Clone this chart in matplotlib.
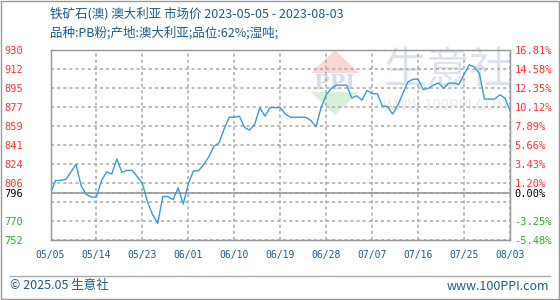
import matplotlib
matplotlib.use('Agg')
import matplotlib.pyplot as plt
import matplotlib.patches as patches
import pandas as pd

plt.rcParams['font.family'] = ['Noto Sans CJK SC', 'DejaVu Sans']

# Daily prices (yuan/ton), starting 2023-05-05.
startDate = '2023-05-05'
prices = [796, 808, 808, 809, 816, 823, 803, 795, 792.5, 792.5,
          808, 816, 814, 828, 815.5, 817.5, 817.5, 811.5, 805, 788,
          776, 768, 793, 793, 790, 801, 786, 805, 817, 817,
          823, 830, 840, 843, 856, 867, 867, 868, 857.5, 855,
          860.5, 876, 868, 876, 876, 876, 870, 867, 867, 867,
          867, 864, 858, 876, 888, 894, 897, 897, 897, 885,
          887, 883, 892, 889, 889, 877.5, 877, 870, 878, 889,
          900, 902.5, 902.5, 893, 894, 897, 899, 894, 899, 899,
          897.5, 907, 916, 914, 908, 884, 884, 884, 888, 885, 873]

# Percent change ticks relative to the first price, with their labels.
pctTicks = [16.81, 14.58, 12.35, 10.12, 7.89, 5.66, 3.43, 1.20, 0.00, -1.03, -3.25, -5.48]
leftLabels = ['930', '912', '895', '877', '859', '841', '824', '806', '796', '', '770', '752']
rightLabels = ['16.81%', '14.58%', '12.35%', '10.12%', '7.89%', '5.66%', '3.43%', '1.20%',
               '0.00%', '', '-3.25%', '-5.48%']

titleText = '铁矿石(澳) 澳大利亚 市场价 2023-05-05 - 2023-08-03'
subtitleText = '品种:PB粉;产地:澳大利亚;品位:62%;湿吨;'
footerLeft = '© 2025.05 生意社'
footerRight = 'www.100PPI.com'

textBlue = '#1d5b8c'
lineBlue = '#3a9ad9'
upRed = '#ff3333'
downGreen = '#33aa33'
frameGray = '#999999'
gridGray = '#a8a8a8'


def main(figureSaveLocation):
    fig = plt.figure(figsize=(5.6, 3), dpi=100)

    # Background layer in pixel coordinates: frame, titles, footer, watermark.
    bg = fig.add_axes([0, 0, 1, 1], zorder=0)
    bg.set_xlim(0, 560)
    bg.set_ylim(300, 0)
    bg.axis('off')
    bg.add_patch(patches.Rectangle((0.5, 0.5), 558.5, 298.5, fill=False, ec=frameGray, lw=1))
    bg.plot([10, 550], [275.5, 275.5], color='#aaaaaa', lw=1)

    bg.text(50, 14, titleText, fontsize=9, color=textBlue, va='center', ha='left')
    bg.text(50, 32.5, subtitleText, fontsize=9, color=textBlue, va='center', ha='left')
    bg.text(10, 286, footerLeft, fontsize=9, color=textBlue, va='center', ha='left')
    bg.text(549, 286, footerRight, fontsize=9, color=textBlue, va='center', ha='right')

    # Watermark logo.
    bg.add_patch(patches.Polygon([[335, 50], [311, 73], [359, 73]], closed=True, fc='#f8d8d3', ec='none'))
    bg.add_patch(patches.Polygon([[311, 92], [359, 92], [335, 115]], closed=True, fc='#d8f0d8', ec='none'))
    bg.text(335, 83, 'PPI', fontsize=15, color='#d5dcea', ha='center', va='center',
            family='DejaVu Serif', fontweight='bold')
    bg.text(448, 71, '生意社', fontsize=31, color='#dce1eb', ha='center', va='center')
    bg.text(446, 106, 'WWW.100PPI.COM', fontsize=10.5, color='#e4e8ef', ha='center', va='center')

    # Main chart.
    ax = fig.add_axes([50.5 / 560, 60 / 300, 459.5 / 560, 190 / 300], zorder=1)
    ax.set_facecolor('none')

    base = prices[0]
    days = list(range(len(prices)))
    dates = pd.date_range(startDate, periods=len(prices))
    tickValues = [base * (1 + p / 100) for p in pctTicks]
    xTicks = days[::9]

    ax.set_xlim(0, len(prices) - 1)
    ax.set_ylim(min(tickValues), max(tickValues))

    # Dashed grid at the tick positions, kept above the watermark layer.
    for v in tickValues:
        ax.axhline(v, color=gridGray, lw=1.1, ls=(0, (2.0, 2.0)), zorder=2.2)
    for d in xTicks[1:]:
        ax.axvline(d, color=gridGray, lw=1.1, ls=(0, (2.0, 2.0)), zorder=2.2)
    ax.axhline(base, color=frameGray, lw=1.2, zorder=2.5)

    ax.plot(days, prices, color=lineBlue, lw=1.0, zorder=3)

    ax.set_xticks(xTicks)
    ax.set_xticklabels([d.strftime('%m/%d') for d in dates[::9]])
    ax.set_yticks(tickValues)
    ax.set_yticklabels(leftLabels)
    ax.tick_params(length=0)
    ax.tick_params(axis='x', pad=7, labelsize=7, labelcolor=textBlue)
    ax.tick_params(axis='y', pad=19.5, labelsize=7.5)
    for lbl in ax.get_xticklabels():
        lbl.set_family('DejaVu Sans Mono')
    for spine in ax.spines.values():
        spine.set_color(frameGray)
        spine.set_linewidth(1)

    ax2 = ax.twinx()
    ax2.set_ylim(ax.get_ylim())
    ax2.set_yticks(tickValues)
    ax2.set_yticklabels(rightLabels)
    ax2.tick_params(length=0, pad=3.3, labelsize=7.5)
    for spine in ax2.spines.values():
        spine.set_color(frameGray)

    for labels in [ax.get_yticklabels(), ax2.get_yticklabels()]:
        for lbl, p in zip(labels, pctTicks):
            lbl.set_family('DejaVu Sans Mono')
            if p > 0:
                lbl.set_color(upRed)
            elif p < 0:
                lbl.set_color(downGreen)
            else:
                lbl.set_color('black')

    plt.savefig(figureSaveLocation, dpi=100, facecolor='white')


if __name__ == '__main__':
    main('out.png')
